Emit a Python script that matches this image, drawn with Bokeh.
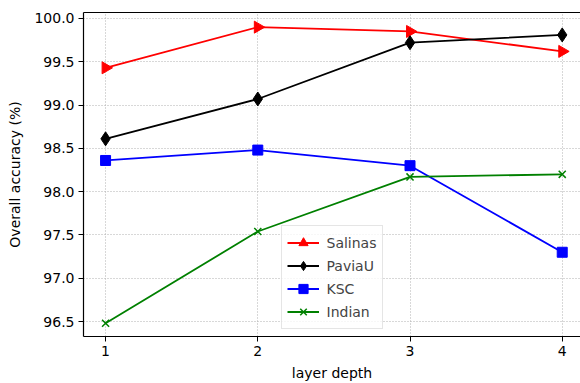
import numpy as np
from bokeh.plotting import figure
from bokeh.models import FixedTicker, NumeralTickFormatter, Range1d, Legend, LinearAxis
from bokeh.embed import file_html
from bokeh.resources import INLINE

depth = [1, 2, 3, 4]
salinas = [99.43, 99.90, 99.85, 99.62]
paviau = [98.61, 99.07, 99.72, 99.81]
ksc = [98.36, 98.48, 98.30, 97.30]
indian = [96.48, 97.54, 98.17, 98.20]
y_ticks = [96.5, 97.0, 97.5, 98.0, 98.5, 99.0, 99.5, 100.0]

FONT = "DejaVu Sans"

p = figure(width=580, height=383, output_backend="svg", toolbar_location=None,
           x_range=Range1d(0.855, 4.12), y_range=Range1d(96.327, 100.069),
           min_border_left=83, min_border_right=0, min_border_top=12, min_border_bottom=46)
p.outline_line_color = None
p.background_fill_color = "white"
p.border_fill_color = "white"

series = [
    ("Salinas", salinas, "#ff0000", "triangle", 12, -np.pi / 2),
    ("PaviaU", paviau, "#000000", "diamond", 14, 0.0),
    ("KSC", ksc, "#0000ff", "square", 10, 0.0),
    ("Indian", indian, "#008000", "x", 10, 0.0),
]
items = []
for name, ys, col, mk, sz, ang in series:
    l = p.line(depth, ys, line_color=col, line_width=1.8)
    s = p.scatter(depth, ys, marker=mk, size=sz, angle=ang, fill_color=col, line_color=col,
                  line_width=1.5 if mk == "x" else 1)
    items.append((name, [l, s]))

legend = Legend(items=items, location="bottom_center", margin=7,
                label_text_font=FONT, label_text_font_size="14px",
                glyph_width=32, glyph_height=23, spacing=0, padding=5,
                label_standoff=8,
                border_line_color="#cccccc", border_line_width=1,
                background_fill_alpha=0.8)
p.add_layout(legend)

xax = p.below[0]
yax = p.left[0]
for ax in (xax, yax):
    ax.axis_line_color = "black"
    ax.axis_line_width = 1.2
    ax.major_tick_line_color = "black"
    ax.major_tick_out = 5
    ax.major_tick_in = 0
    ax.minor_tick_line_color = None
    ax.major_label_text_font = FONT
    ax.major_label_text_font_size = "14px"
    ax.major_label_text_color = "black"
    ax.axis_label_text_font = FONT
    ax.axis_label_text_font_size = "14px"
    ax.axis_label_text_font_style = "normal"
    ax.axis_label_text_color = "black"

xax.ticker = FixedTicker(ticks=depth)
yax.ticker = FixedTicker(ticks=y_ticks)
yax.formatter = NumeralTickFormatter(format="0.0")
xax.axis_label = "layer depth"
yax.axis_label = "Overall accuracy (%)"
xax.major_label_standoff = 4
yax.major_label_standoff = 4
xax.axis_label_standoff = 6
yax.axis_label_standoff = 8

for g in (p.xgrid[0], p.ygrid[0]):
    g.grid_line_color = "#b0b0b0"
    g.grid_line_dash = "1 2"
    g.grid_line_width = 1
p.xgrid[0].ticker = FixedTicker(ticks=depth)
p.ygrid[0].ticker = FixedTicker(ticks=y_ticks)

top_axis = LinearAxis(axis_line_color="black", axis_line_width=1.2,
                      major_tick_line_color=None, minor_tick_line_color=None,
                      major_label_text_font_size="0px", major_label_standoff=0,
                      ticker=FixedTicker(ticks=[]))
p.add_layout(top_axis, "above")

open("out.html", "w").write(file_html(p, INLINE))
